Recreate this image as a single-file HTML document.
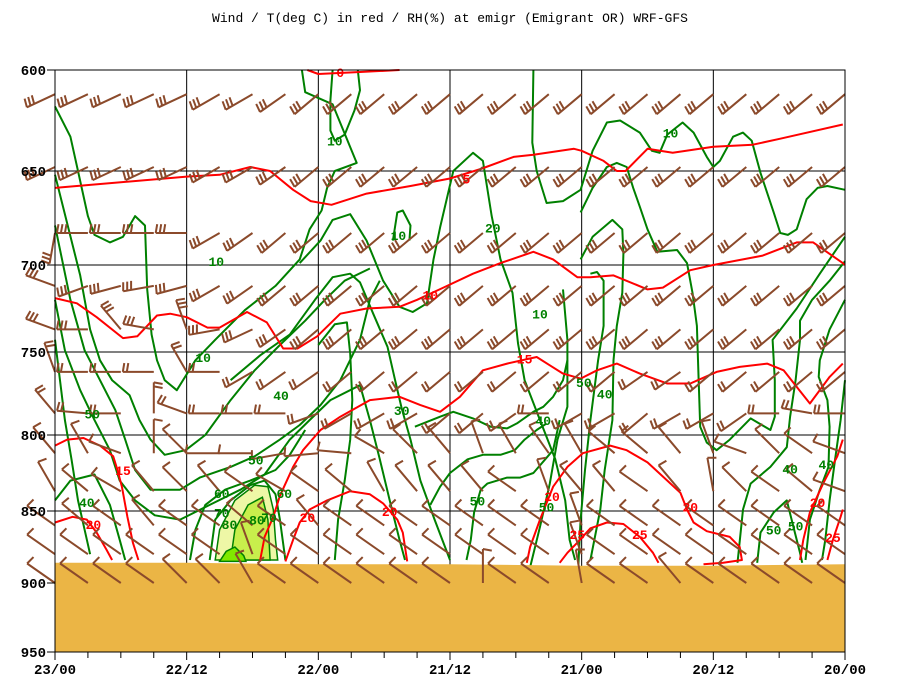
<!DOCTYPE html>
<html><head><meta charset="utf-8"><style>
html,body{margin:0;padding:0;background:#fff}
svg{display:block}
text{font-family:"Liberation Mono",monospace;font-weight:bold}
</style></head><body>
<svg id="chart" width="900" height="700" viewBox="0 0 900 700" xmlns="http://www.w3.org/2000/svg">
<text x="450" y="22" text-anchor="middle" font-size="13" style="font-weight:normal">Wind / T(deg C) in red / RH(%) at emigr (Emigrant OR)  WRF-GFS</text>
<g id="grid"></g>
<g id="rh"></g>
<g id="temp"></g>
<g id="ground"></g>
<g id="barbs"></g>
<g id="labels"></g>
<g id="axes"></g>
</svg>
<script>
// axis calibration
const pLevels=[600,650,700,750,800,850,900,950];
const yCal=[70,171,265,352,435,511,583,652];
const xTickLabels=["23/00","22/12","22/00","21/12","21/00","20/12","20/00"];
const yTickLabels=["600","650","700","750","800","850","900","950"];
// ground (surface pressure)
const groundHours=[0,12,24,36,48,60,72];
const groundPres=[886,886,887,887,888,888,887];
// RH blob fills
const blobLightH=[14.6,15,16.4,18.2,19.4,19.9,20.1,20.3];
const blobLightP=[884,863,843,833,834,849,870,884];
const blobMidH=[16,16.4,17.6,18.9,19.4,19.6];
const blobMidP=[884,863,846,841,856,884];
const blobHiH=[15,15.6,16.4,17.2,17.4];
const blobHiP=[885,878,875,881,885];
// RH contours (hours, pressure)
const rhLines=[
 [[0,1.4,2.1,3,3.6,5,6.2,7.3,8.2,8.4,8.8,9.3,10,11.1,12.8,14.6,17.3,20.1,22.3,23.2,24.3,24.8,25.5,27.5,25.3,22.8,22.5],[618,633,650,674,684,688,685,674,679,714,740,755,767,773,755,743,726,712,697,681,671,659,650,646,617,611,600]],
 [[0,0.9,2.3,3.2,4.1,5.2,6.8,7.7,8.7,10,11.9,13.7,16,18.2,20.5,22.8,24.6,26.4,28.7],[652,673,706,737,755,767,776,791,803,813,810,800,779,761,746,732,720,709,702]],
 [[0,1.4,2.7,4.1,5.5,6.4,7.3,8.7,11.4,13.2,16,18.2,20.5,22.3,24.2,26,27.8,28.7,29.6],[679,720,749,767,785,803,823,836,836,828,821,814,803,794,782,767,743,720,709]],
 [[0,0.9,2.3,3.6,5,5.9,7.3,9.1,11.4,14.1,16.9,19.1,21.4,23.2,25.1,27.8,28.7,29.6,30.5,31.4,31.9],[720,749,773,791,810,830,843,853,856,846,836,826,803,791,779,770,791,816,843,870,884]],
 [[0,1.4,3.6,5,5.9,6.4],[843,830,826,846,870,884]],
 [[0,0.9,1.5,2.1,2.7,3.2],[743,791,816,843,863,880]],
 [[12.3,12.8,13.7,15.5,17.8,20.1,21.4,22.8],[884,863,846,836,830,823,813,797]],
 [[14.1,14.6,16,17.8,19.1,20.1,20.5,21],[884,856,843,833,830,839,856,884]],
 [[22.3,24.2,25.3,26.9,28.4,29.9,31.4,32.6,33.9,34.5,35.1,36.3,38.1,39,39.8,40.6,41.7,42.2,42.8,44.2,45.6,46.5,46.9,47.4],[699,687,676,673,687,709,724,727,722,697,680,650,641,645,674,697,716,745,767,791,816,843,870,884]],
 [[16,18.7,21.4,23.7,25.3,26.9,27.8,29,30.3,31,31.6,32.4,33.3,34.6,36],[767,752,740,720,707,705,710,728,747,767,784,803,830,856,884]],
 [[24,25.5,26.6,26.9,27.1,26.9,26.4,25.8,25.5],[746,734,733,751,779,803,830,856,884]],
 [[30.8,31.2,31.7,32.4,32.3],[687,672,671,679,687]],
 [[25.3,25.1,25.1,25.5,26.4,27.3,27.8,27.6],[600,615,630,635,632,620,610,600]],
 [[43.6,43.5,43.9,44.8,46.3,47.9,49,50.3,51.5,53.3,54.4,55.1,55.8,57.2,58.2,59.4,60,60.6,61.8,62.7,63.5,64.3,65.5,66.1,66.8,67.6,68.5,69.5,70.4,72],[600,636,650,667,666,660,640,626,625,631,640,641,632,626,631,643,648,645,633,631,635,651,672,683,684,681,665,659,658,660]],
 [[47.9,49,50.3,51.2,52.1,52.7,53.3,54,54.9,56.7,57.6,58.1,58.5,58.6,58.8,59.4,60.3,61.5,63.4,65.2,65.6,65.6,65.4,67.6,69.7,72],[672,659,648,646,648,659,669,681,693,692,699,716,735,755,795,805,810,803,790,797,789,767,743,725,705,685]],
 [[47.9,49,50.8,51.7,51.8,51.7,51.2,50.9,50.8,50.1,49.7,48.8],[697,685,676,681,694,716,735,755,791,823,849,884]],
 [[48.8,49.4,50,50,49.5,48.8,48.3,47.9,47.7],[705,704,709,735,755,791,823,856,887]],
 [[46.3,46.7,46.7,45.8,45.1,44.2,43.3],[714,743,783,803,832,861,889]],
 [[32.8,35.1,36.3,38.1,39.7,41.2,42.1,43.6,44.5,45.4,46.3,46.7],[795,789,786,790,795,796,793,786,783,777,767,755]],
 [[34.2,35.1,36,37.6,39,40.6,41.9,42.8,43.9,44.8],[846,834,825,816,813,813,810,803,797,793]],
 [[37.5,37.9,38.2,38.8,39.4,41.2,42.4,43.6,45.4,46],[884,870,851,836,832,828,828,825,810,791]],
 [[72,70.6,69,67.9,67.9,67.5,67,66.7,65.2,63.4,62.7,62.2],[698,709,720,732,743,767,789,808,821,832,849,886]],
 [[72,70.6,69.7,69.6,70.4,70.6,70.5,69.7,68.8,68.4],[720,737,755,765,779,795,821,836,856,884]],
 [[72,71.6,71.1,70.6,70.2,69.9],[767,791,816,843,870,884]],
 [[64,64.3,65.5,66.7,67.3,67.9,68.1],[886,865,851,843,861,879,886]]
];
// temperature contours
const tLines=[
 [[23,24,27.8,31.4],[600,602,601,600]],
 [[0,12,15,17.8,19.6,21.7,23.3,25.2,28.4,32.4,36,38.8,41.8,43.6,47.3,48,50,51.2,52,54,56.3,60,63.6,66.1,71.8],[659,653,652,648,650,660,666,668,662,658,654,649,643,642,639,640,645,650,650,639,641,638,637,634,627]],
 [[0,2,3.8,6.2,7.5,9.3,10.5,12,13.9,15,17.5,19.3,20.8,22.1,23.9,26,28.4,31.4,33,35.4,38.1,40.6,43.6,45.4,47.6,48.8,50.9,54,55.4,57.9,60,64.5,67.6,69.1,71.8,72],[719,722,730,742,741,729,728,730,736,736,727,733,748,748,741,728,725,724,720,713,705,699,693,697,707,707,706,714,713,703,700,695,688,688,699,700]],
 [[0,1.1,2.6,4.1,5.3,5.7,6.1,6.6,7.1,7.6],[807,803,802,807,814,823,834,854,872,884]],
 [[18.7,19.1,19.9,20.5,21.7,22.6,24.2,26,28.7,31.4,33.3,35.1,36.9,39,41.2,43.9,45.1,46.3,47.9,49.4,51.2,53.3,55.8,57.9,60.3,62.4,64.9,66.4,67.6,68.8,70.6,71.8],[884,868,854,840,821,810,797,789,779,777,782,786,777,761,757,753,758,763,766,761,757,763,769,769,762,759,757,761,771,781,765,757]],
 [[0,1.6,2.9,3.8,4.7,5.2],[858,854,856,865,877,884]],
 [[21,21.7,22.3,23.2,24.8,26.9,28.7,29.9,31.2,31.7,32.1],[885,870,858,849,843,837,839,845,856,865,885]],
 [[43,43.3,44.2,45.4,46.7,48.1,50.6,52.1,54,55.8,57,57.6,58.2,59.4,61.5,62.4,62.6,60.9,59.1],[886,875,856,834,821,812,807,810,818,830,838,849,858,864,868,875,884,886,887]],
 [[67.9,68.2,68.8,70,71.3,71.8],[884,870,851,832,814,803]],
 [[46,46.7,47.6,48.8,50.3,51.8,53.3,54.5,55],[886,879,872,862,858,859,868,879,886]],
 [[70.4,70.9,71.6,71.8],[884,870,854,849]]
];
// contour labels
const rhLabelText=["10","10","10","10","10","10","20","30","40","40","40","40","40","40","50","50","50","50","50","50","50","60","60","70","70","80","80"];
const rhLabelH=[25.5,31.3,14.7,13.5,44.2,56.1,39.9,31.6,20.6,2.9,44.5,50.1,67,70.3,3.4,18.3,38.5,44.8,65.5,67.5,48.2,15.2,20.9,15.2,19.5,15.9,18.4];
const rhLabelP=[635,684,698,753,728,631,680,785,776,844,791,775,822,819,787,816,843,847,863,860,768,838,838,851,854,859,856];
const tLabelText=["0","5","10","15","15","20","20","20","20","20","20","25","25","25"];
const tLabelH=[26,37.5,34.2,6.2,42.8,3.5,23,30.5,45.3,57.9,69.5,47.6,53.3,70.9];
const tLabelP=[601,654,717,823,754,859,854,850,840,847,844,866,866,868];
// wind barbs: station levels, staff direction (screen deg) per 3-hourly column, feathers per level
const barbLevels=[612,648,683,712,737,762,787,812,837,860,880,900];
const barbFeathers=[3,3,3,3,3,2,2,1,1,1,1,1];
const barbDir=[
 [155,155,155,155,155,150,150,145,140,140,140,140,140,140,140,140,140,140,140,140,140,140,140,140,140],
 [155,155,155,155,155,150,150,145,140,140,140,140,140,140,140,140,140,140,140,140,140,140,140,140,140],
 [100,180,180,180,180,150,145,140,140,140,140,140,140,140,140,140,140,140,140,140,140,140,140,140,140],
 [200,160,165,170,165,150,145,140,140,140,140,140,140,140,140,140,140,140,140,140,140,140,140,140,140],
 [200,180,230,190,250,170,155,145,140,140,140,140,140,140,140,140,140,140,140,140,140,140,140,140,140],
 [250,180,180,180,240,180,150,145,145,140,140,140,140,140,140,140,140,140,145,145,140,140,140,140,140],
 [230,185,180,270,200,180,180,180,160,150,150,150,140,140,145,180,150,150,140,150,150,145,180,190,180],
 [230,240,200,270,225,180,180,170,175,185,210,225,230,250,240,235,240,220,220,230,250,200,225,215,200],
 [240,220,210,230,225,230,215,210,215,220,240,230,230,230,215,250,230,230,215,230,260,225,215,220,200],
 [215,220,215,230,215,215,220,215,230,215,215,215,215,215,215,215,250,215,215,215,215,215,215,215,215],
 [215,215,215,215,215,215,250,215,215,215,215,215,215,215,215,215,250,215,215,215,215,215,215,215,215],
 [215,215,215,215,225,225,240,215,215,215,215,215,215,270,215,215,260,215,215,230,215,215,215,215,215]
];

const X0=55,X1=845,HOURS=72;
function xOf(h){return X0+h*(X1-X0)/HOURS;}
function yOf(p){
 for(let i=0;i<pLevels.length-1;i++){
  if(p<=pLevels[i+1]||i===pLevels.length-2){
   const t=(p-pLevels[i])/(pLevels[i+1]-pLevels[i]);
   return yCal[i]+t*(yCal[i+1]-yCal[i]);
  }
 }
}
const NS="http://www.w3.org/2000/svg";
function mk(tag,attrs,parent){const e=document.createElementNS(NS,tag);for(const k in attrs)e.setAttribute(k,attrs[k]);parent.appendChild(e);return e;}
function pts(H,P){return H.map((h,i)=>xOf(h).toFixed(1)+","+yOf(P[i]).toFixed(1)).join(" ");}

const grid=document.getElementById("grid");
for(let i=0;i<xTickLabels.length;i++){
 const x=xOf(i*12);
 const l=mk("line",{x1:x,y1:70,x2:x,y2:652,stroke:"#000","stroke-width":1},grid);
 
 
}
for(let i=0;i<pLevels.length;i++){
 const y=yOf(pLevels[i]);
 const l=mk("line",{x1:55,y1:y,x2:845,y2:y,stroke:"#000","stroke-width":1},grid);
 
 
}

const rh=document.getElementById("rh");
[[blobLightH,blobLightP,"#eef7a6"],[blobMidH,blobMidP,"#c8ee4c"],[blobHiH,blobHiP,"#80e800"]].forEach(b=>{
 const e=mk("polygon",{points:pts(b[0],b[1]),fill:b[2],stroke:"#008000","stroke-width":1.5},rh);
 
 
});
rhLines.forEach(L=>{
 const e=mk("polyline",{points:pts(L[0],L[1]),fill:"none",stroke:"#008000","stroke-width":2,"stroke-linejoin":"round"},rh);
 
 
});
const temp=document.getElementById("temp");
tLines.forEach(L=>{
 const e=mk("polyline",{points:pts(L[0],L[1]),fill:"none",stroke:"#ff0000","stroke-width":2,"stroke-linejoin":"round"},temp);
 
 
});

const ground=document.getElementById("ground");
{
 let s=pts(groundHours,groundPres)+" "+xOf(72)+","+yOf(950)+" "+xOf(0)+","+yOf(950);
 const e=mk("polygon",{points:s,fill:"#ebb545"},ground);
 
 
}

const barbs=document.getElementById("barbs");
barbLevels.forEach((p,r)=>{
 const y=yOf(p);
 barbDir[r].forEach((d,c)=>{
  const x=xOf(c*3);
  const a=d*Math.PI/180;
  const len=r<7?31:34;
  const ex=x+len*Math.cos(a),ey=y+len*Math.sin(a);
  let dstr="M"+x.toFixed(1)+" "+y.toFixed(1)+"L"+ex.toFixed(1)+" "+ey.toFixed(1);
  const fa=a+100*Math.PI/180;
  for(let k=0;k<barbFeathers[r];k++){
   const bx=ex-4*k*Math.cos(a),by=ey-4*k*Math.sin(a);
   dstr+="M"+bx.toFixed(1)+" "+by.toFixed(1)+"L"+(bx+9*Math.cos(fa)).toFixed(1)+" "+(by+9*Math.sin(fa)).toFixed(1);
  }
  const e=mk("path",{d:dstr,fill:"none",stroke:"#8b4a2b","stroke-width":2},barbs);
  
  
 });
});

const labels=document.getElementById("labels");
rhLabelText.forEach((t,i)=>{
 const e=mk("text",{x:xOf(rhLabelH[i]),y:yOf(rhLabelP[i])+5,"text-anchor":"middle","font-size":13,fill:"#008000"},labels);
 e.textContent=t;
 
 
});
tLabelText.forEach((t,i)=>{
 const e=mk("text",{x:xOf(tLabelH[i]),y:yOf(tLabelP[i])+5,"text-anchor":"middle","font-size":13,fill:"#ff0000"},labels);
 e.textContent=t;
 
 
});

const axes=document.getElementById("axes");
{
 const f=mk("rect",{x:55,y:70,width:790,height:582,fill:"none",stroke:"#000","stroke-width":1},axes);
 
 
}
yTickLabels.forEach((t,i)=>{
 const y=yOf(pLevels[i]);
 const l=mk("line",{x1:47,y1:y,x2:55,y2:y,stroke:"#000"},axes);
 
 
 const e=mk("text",{x:46,y:y+5,"text-anchor":"end","font-size":14,fill:"#000"},axes);
 e.textContent=t;
 
 
});
for(let h=0;h<=72;h+=3){
 const x=xOf(h);
 const l=mk("line",{x1:x,y1:652,x2:x,y2:h%12===0?660:658,stroke:"#000"},axes);
 
 
}
xTickLabels.forEach((t,i)=>{
 const e=mk("text",{x:xOf(i*12),y:674,"text-anchor":"middle","font-size":14,fill:"#000"},axes);
 e.textContent=t;
 
 
});
</script>
</body></html>
